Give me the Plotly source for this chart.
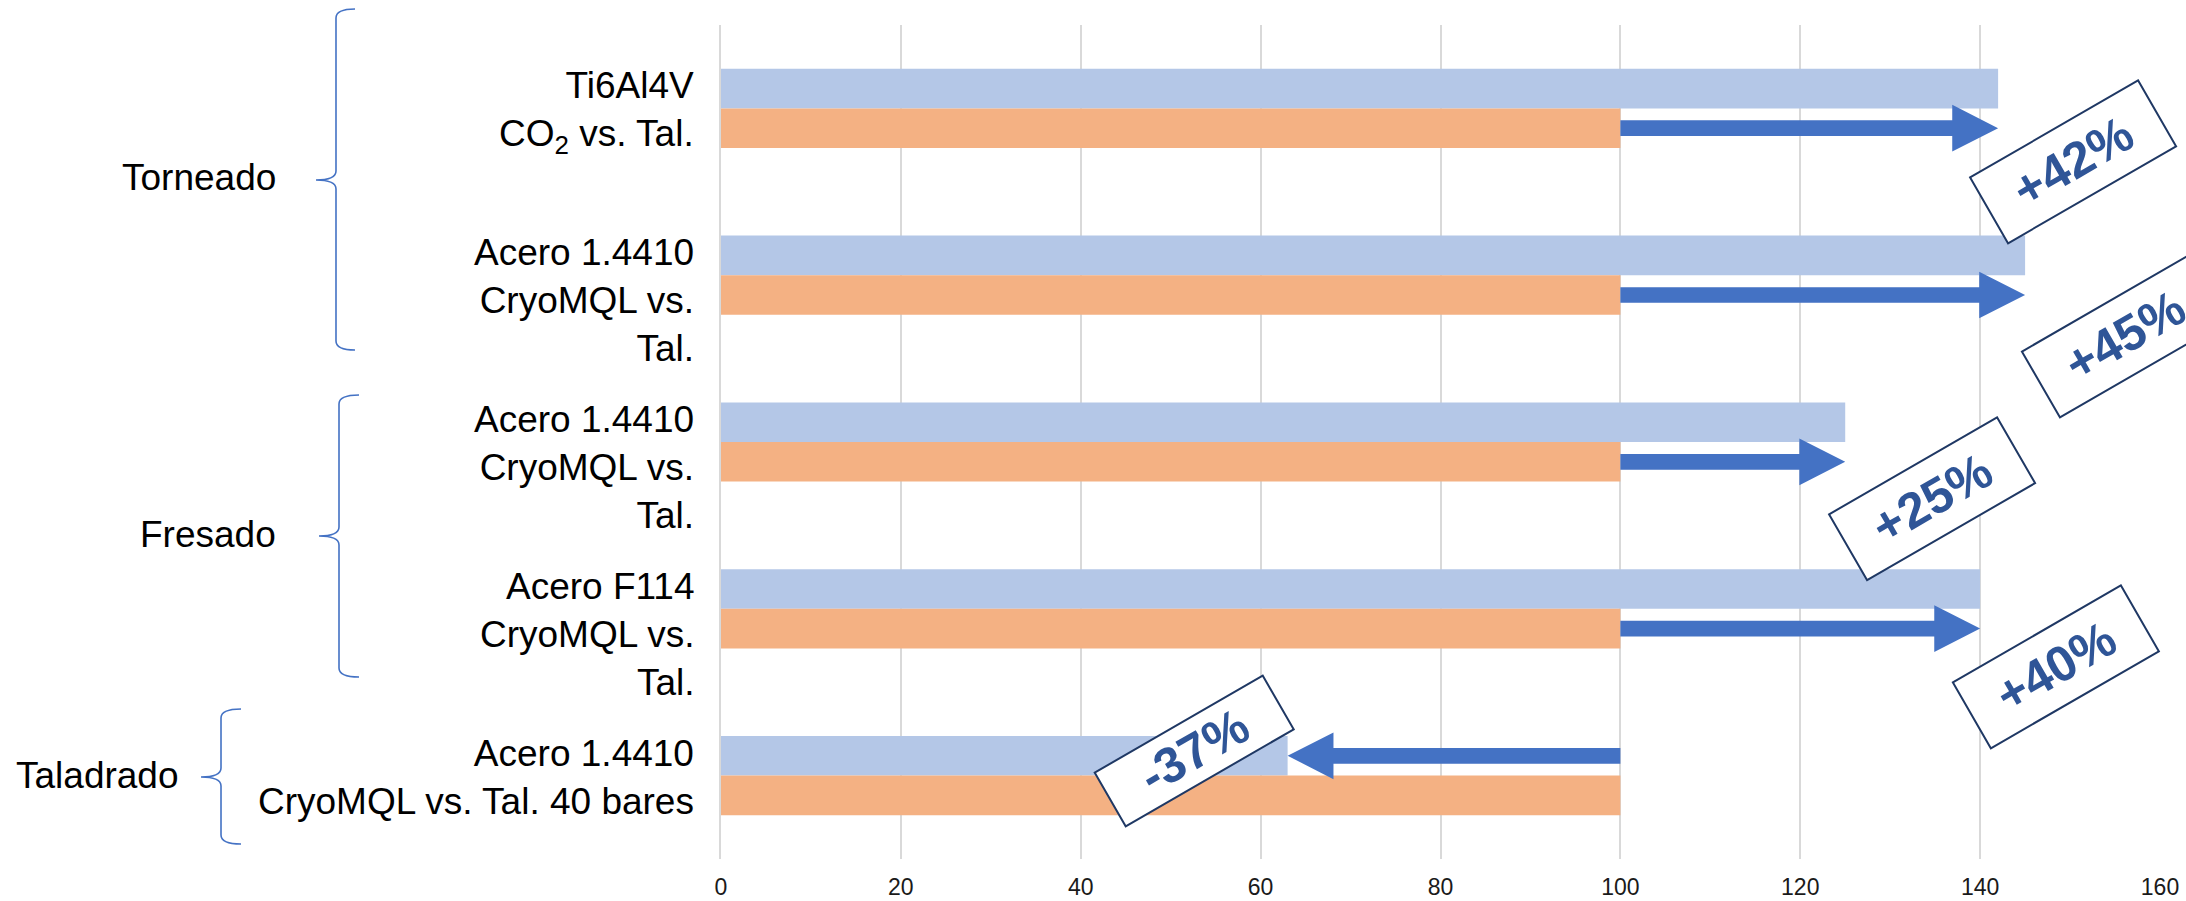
import plotly.graph_objects as go

# ---------------- data ----------------
categories = [
    "Ti6Al4V<br>CO<sub>2</sub> vs. Tal.",
    "Acero 1.4410<br>CryoMQL vs.<br>Tal.",
    "Acero 1.4410<br>CryoMQL vs.<br>Tal.",
    "Acero F114<br>CryoMQL vs.<br>Tal.",
    "Acero 1.4410<br>CryoMQL vs. Tal. 40 bares",
]
groups = ["Torneado", "Fresado", "Taladrado"]
cryo_values = [142, 145, 125, 140, 63]      # light blue bars
tal_values = [100, 100, 100, 100, 100]      # orange bars (reference)
x_ticks = [0, 20, 40, 60, 80, 100, 120, 140, 160]

# ---------------- layout / style ----------------
W, H = 2186, 901
M_L, M_R, M_T, M_B = 721, 26, 25, 42
PW = W - M_L - M_R
PH = H - M_T - M_B

BLUE_BAR = "#B4C7E7"
ORANGE_BAR = "#F4B183"
ARROW = "#4472C4"
LABEL_TXT = "#2F5597"
LABEL_BORDER = "#1F3864"
FONT = "Liberation Sans, Arial, sans-serif"

BW = 0.2375          # bar thickness (category units)
HEAD_LEN = 5.1       # arrow head length (x units)
HEAD_HALF = 0.14     # arrow head half height (category units)
SHAFT_HALF = 0.047   # arrow shaft half thickness (category units)

# label box offsets relative to (bar value, category index)
label_offsets = [(8.3, 0.32), (11.1, 0.365), (9.6, 0.34), (8.4, 0.35), (-10.4, -0.15)]
label_heights = [74, 74, 74, 74, 60]

# brace geometry in pixels: (line_x, tip_x, end_x, top, mid, bottom), label right edge x
braces = [
    (336, 316, 355, 9, 180, 350),
    (339, 319, 359, 395, 536, 677),
    (221, 201, 241, 709, 777, 844),
]
group_label_right = [278, 278, 181]


def pxx(px):
    return (px - M_L) / PW


def pxy(py):
    return (H - M_B - py) / PH


ypos = list(range(len(categories)))

fig = go.Figure()
fig.add_trace(go.Bar(
    y=ypos, x=cryo_values, orientation="h", width=BW, offset=-BW,
    marker=dict(color=BLUE_BAR, line=dict(width=0)), hoverinfo="x", showlegend=False,
))
fig.add_trace(go.Bar(
    y=ypos, x=tal_values, orientation="h", width=BW, offset=0,
    marker=dict(color=ORANGE_BAR, line=dict(width=0)), hoverinfo="x", showlegend=False,
))

shapes = []
annotations = []

# arrows + percentage labels
for i, (v, r) in enumerate(zip(cryo_values, tal_values)):
    d = 1 if v > r else -1
    yc = i + BW / 2 if d > 0 else i - BW / 2
    hb = v - d * HEAD_LEN
    path = (f"M {r},{yc - SHAFT_HALF} L {hb},{yc - SHAFT_HALF} L {hb},{yc - HEAD_HALF} "
            f"L {v},{yc} L {hb},{yc + HEAD_HALF} L {hb},{yc + SHAFT_HALF} L {r},{yc + SHAFT_HALF} Z")
    shapes.append(dict(type="path", path=path, xref="x", yref="y",
                       fillcolor=ARROW, line=dict(width=0), layer="above"))
    pct = (v / r - 1) * 100
    dx, dy = label_offsets[i]
    annotations.append(dict(
        x=v + dx, y=i + dy, xref="x", yref="y", showarrow=False,
        text=f"<b>{pct:+.0f}%</b>", textangle=-30,
        font=dict(family=FONT, size=50, color=LABEL_TXT),
        bgcolor="white", bordercolor=LABEL_BORDER, borderwidth=2, borderpad=0,
        width=192, height=label_heights[i], align="center", valign="middle",
    ))

# category labels (right aligned next to the plot)
for i, c in enumerate(categories):
    annotations.append(dict(
        x=0, y=i, xref="paper", yref="y", xanchor="right", yanchor="top",
        xshift=-25, yshift=45, showarrow=False, text=c, align="right",
        font=dict(family=FONT, size=37, color="black"),
    ))

# group braces and labels
for (lx, tx, ex, top, mid, bot), g, rx in zip(braces, groups, group_label_right):
    c = 9
    pts = [
        ("M", [(ex, top)]),
        ("Q", [(lx, top), (lx, top + c)]),
        ("L", [(lx, mid - c)]),
        ("Q", [(lx, mid), (tx, mid)]),
        ("Q", [(lx, mid), (lx, mid + c)]),
        ("L", [(lx, bot - c)]),
        ("Q", [(lx, bot), (ex, bot)]),
    ]
    path = " ".join(cmd + " " + " ".join(f"{pxx(px):.5f},{pxy(py):.5f}" for px, py in p)
                    for cmd, p in pts)
    shapes.append(dict(type="path", path=path, xref="paper", yref="paper",
                       line=dict(color=ARROW, width=1.6)))
    annotations.append(dict(
        x=pxx(rx), y=pxy(mid - 2), xref="paper", yref="paper",
        xanchor="right", yanchor="middle", showarrow=False, text=g,
        font=dict(family=FONT, size=37, color="black"),
    ))

fig.update_layout(
    width=W, height=H,
    margin=dict(l=M_L, r=M_R, t=M_T, b=M_B, autoexpand=False),
    paper_bgcolor="white", plot_bgcolor="white",
    barmode="overlay",
    shapes=shapes, annotations=annotations,
    font=dict(family=FONT),
    xaxis=dict(
        range=[0, 160], tickvals=x_ticks, showgrid=True, gridcolor="#D9D9D9", gridwidth=2,
        zeroline=False, showline=False, ticks="", ticklabelstandoff=12,
        tickfont=dict(family=FONT, size=23, color="#1a1a1a"), automargin=False,
    ),
    yaxis=dict(
        range=[len(categories) - 0.5, -0.5], showticklabels=False, showgrid=False,
        zeroline=False, showline=True, linecolor="#D9D9D9", linewidth=2, automargin=False,
    ),
)

fig.write_html("out.html")
